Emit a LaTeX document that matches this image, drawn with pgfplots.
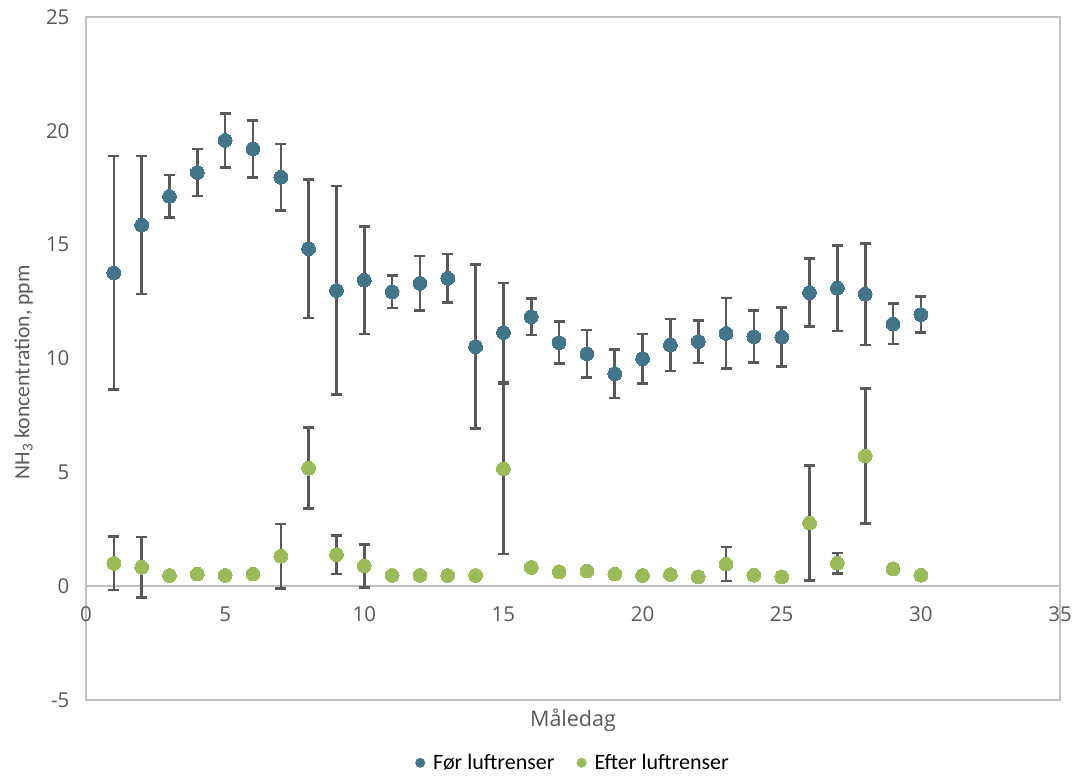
\documentclass[border=0pt]{standalone}
\usepackage{fontspec}
\setmainfont{Carlito}
\newfontfamily\osans{Open Sans}
\usepackage{pgfplots}
\pgfplotsset{compat=1.18}
\usepackage{pgfplotstable}
\definecolor{fblue}{HTML}{42748A}
\definecolor{fgreen}{HTML}{9BBB59}
\definecolor{tickgray}{HTML}{595959}
\definecolor{axgray}{HTML}{C0C0C0}
\definecolor{errgray}{HTML}{595959}

\pgfplotstableread{
x y e
1 13.76 5.13
2 15.86 3.03
3 17.12 0.94
4 18.17 1.04
5 19.58 1.18
6 19.21 1.25
7 17.96 1.47
8 14.82 3.04
9 12.99 4.58
10 13.44 2.37
11 12.93 0.71
12 13.30 1.20
13 13.52 1.07
14 10.52 3.60
15 11.14 2.18
16 11.83 0.80
17 10.70 0.92
18 10.21 1.04
19 9.33 1.07
20 9.99 1.09
21 10.59 1.14
22 10.74 0.94
23 11.10 1.55
24 10.96 1.14
25 10.94 1.30
26 12.89 1.49
27 13.09 1.88
28 12.83 2.23
29 11.52 0.89
30 11.93 0.79
}\foer

\pgfplotstableread{
x y e
1 1.00 1.17
2 0.83 1.33
3 0.47 0
4 0.53 0
5 0.47 0
6 0.53 0
7 1.32 1.41
8 5.18 1.78
9 1.38 0.84
10 0.89 0.94
11 0.47 0
12 0.47 0
13 0.47 0
14 0.47 0
15 5.15 3.74
16 0.82 0
17 0.63 0
18 0.67 0.10
19 0.53 0
20 0.47 0
21 0.51 0.05
22 0.41 0
23 0.97 0.75
24 0.48 0
25 0.41 0
26 2.77 2.52
27 1.01 0.45
28 5.72 2.97
29 0.76 0.15
30 0.48 0
}\efter

\begin{document}
\begin{tikzpicture}[x=1pt,y=1pt]
\useasboundingbox (-86,-78) rectangle (990,700);
\begin{axis}[
  at={(0,0)}, anchor=south west,
  scale only axis, width=974pt, height=683pt,
  xmin=0, xmax=35, ymin=-5, ymax=25,
  xtick={0,5,...,35}, ytick={-5,0,...,25},
  axis line style={axgray, line width=1.8pt},
  major tick length=0pt,
  /pgf/number format/assume math mode=true,
  tick label style={font=\osans\fontsize{20.5}{24}\selectfont, text=tickgray},
  xticklabel style={yshift=97pt},
  yticklabel style={xshift=-13pt},
  extra y ticks={0}, extra y tick labels={},
  extra y tick style={grid=major, major grid style={axgray, line width=1.8pt}},
  xlabel={Måledag},
  xlabel style={at={(axis description cs:0.5,0)}, anchor=north, yshift=-5pt,
    font=\osans\fontsize{21.5}{26}\selectfont, text=tickgray},
  ylabel={NH\textsubscript{3} koncentration, ppm},
  ylabel style={at={(axis description cs:-0.064,0.48)}, anchor=center,
    font=\fontsize{21.7}{25}\selectfont, text=tickgray},
  legend style={at={(axis description cs:0.5,-0.092)}, anchor=center,
    draw=none, fill=none, legend columns=2,
    font=\fontsize{22}{26}\selectfont, text=black,
    /tikz/every even column/.append style={column sep=20pt}},
  legend cell align=left,
]
\addplot[only marks, mark=*, mark size=6.9pt, mark options={fblue, line width=0pt},
  legend image code/.code={\fill[fblue, draw=none] (0pt,0pt) circle (5pt);
    \path[draw=none, fill=none] (-5pt,-5pt) rectangle (11pt,5pt);},
  error bars/.cd, y dir=both, y explicit,
  error bar style={errgray, line width=2.6pt},
  error mark options={errgray, line width=2.6pt, mark size=5.5pt, rotate=90}]
  table[x=x, y=y, y error=e]{\foer};
\addlegendentry{Før luftrenser}
\addplot[only marks, mark=*, mark size=6.9pt, mark options={fgreen, line width=0pt},
  legend image code/.code={\fill[fgreen, draw=none] (0pt,0pt) circle (5pt);
    \path[draw=none, fill=none] (-5pt,-5pt) rectangle (11pt,5pt);},
  error bars/.cd, y dir=both, y explicit,
  error bar style={errgray, line width=2.6pt},
  error mark options={errgray, line width=2.6pt, mark size=5.5pt, rotate=90}]
  table[x=x, y=y, y error=e]{\efter};
\addlegendentry{Efter luftrenser}
\end{axis}
\end{tikzpicture}
\end{document}
